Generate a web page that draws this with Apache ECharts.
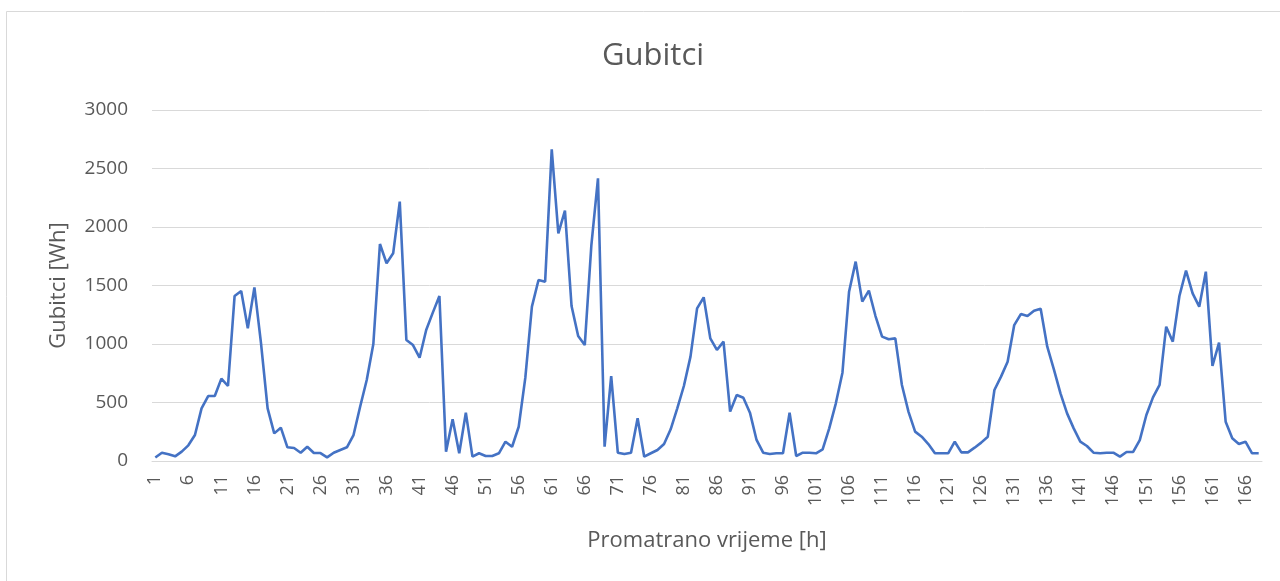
<!DOCTYPE html>
<html>
<head>
<meta charset="utf-8">
<script src="https://cdn.jsdelivr.net/npm/echarts@6/dist/echarts.min.js"></script>
<style>
  html, body { margin: 0; padding: 0; background: #ffffff; }
  #chart { width: 1280px; height: 581px; }
</style>
</head>
<body>
<div id="chart"></div>
<script>
// Hourly losses [Wh], one array per day of the observed week
const day1 = [30, 70, 57, 40, 80, 134, 222, 450, 555, 555, 704, 641, 1410, 1453, 1134, 1484, 1006, 450, 236, 285, 117, 111, 71, 122];
const day2 = [68, 68, 31, 71, 94, 117, 222, 464, 692, 1000, 1855, 1690, 1775, 2217, 1034, 991, 883, 1120, 1268, 1410, 80, 356, 66, 413];
const day3 = [37, 66, 43, 43, 66, 165, 122, 293, 710, 1319, 1547, 1533, 2664, 1946, 2140, 1325, 1068, 991, 1846, 2416, 122, 726, 71, 60];
const day4 = [71, 365, 37, 66, 94, 145, 271, 450, 641, 892, 1305, 1399, 1048, 949, 1020, 422, 564, 541, 413, 180, 71, 60, 66, 66];
const day5 = [413, 43, 71, 71, 66, 100, 279, 493, 755, 1447, 1704, 1362, 1456, 1239, 1063, 1040, 1048, 650, 420, 251, 208, 145, 66, 66];
const day6 = [66, 165, 74, 74, 114, 157, 208, 607, 721, 849, 1162, 1256, 1239, 1285, 1302, 977, 783, 578, 407, 279, 165, 128, 71, 66];
const day7 = [71, 71, 37, 77, 77, 179, 393, 544, 650, 1148, 1020, 1410, 1627, 1433, 1319, 1618, 812, 1011, 336, 194, 145, 165, 66, 66];

const losses = [].concat(day1, day2, day3, day4, day5, day6, day7);

// Hour labels 1..168
const hours = losses.map((_, i) => String(i + 1));

const titleText = 'Gubitci';
const xName = 'Promatrano vrijeme [h]';
const yName = 'Gubitci [Wh]';

const textColor = '#595959';
const gridColor = '#D9D9D9';
const fontFamily = '"Open Sans", "Noto Sans", sans-serif';

const chart = echarts.init(document.getElementById('chart'), null, { renderer: 'canvas' });

chart.setOption({
  backgroundColor: '#ffffff',
  animation: false,
  graphic: [{
    type: 'rect',
    shape: { x: 6.5, y: 11.5, width: 1300, height: 620 },
    style: { fill: 'none', stroke: gridColor, lineWidth: 1 },
    silent: true,
    z: -1
  }],
  title: {
    text: titleText,
    left: 597,
    top: 36,
    textStyle: { color: textColor, fontSize: 31, fontWeight: 'normal', fontFamily: fontFamily }
  },
  grid: { left: 152, right: 18, top: 110, bottom: 120, containLabel: false },
  xAxis: {
    type: 'category',
    data: hours,
    boundaryGap: true,
    name: xName,
    nameLocation: 'middle',
    nameGap: 69,
    nameTextStyle: { color: textColor, fontSize: 22, fontFamily: fontFamily },
    axisLine: { show: true, lineStyle: { color: gridColor, width: 1 } },
    axisTick: { show: false },
    axisLabel: {
      interval: 4,
      rotate: 90,
      margin: 14,
      color: textColor,
      fontSize: 18,
      fontFamily: fontFamily
    },
    splitLine: { show: false }
  },
  yAxis: {
    type: 'value',
    min: 0,
    max: 3000,
    interval: 500,
    name: yName,
    nameLocation: 'middle',
    nameGap: 82,
    nameTextStyle: { color: textColor, fontSize: 22, fontFamily: fontFamily },
    axisLine: { show: false },
    axisTick: { show: false },
    axisLabel: {
      color: textColor,
      fontSize: 19,
      margin: 24,
      fontFamily: fontFamily,
      formatter: (v) => String(v)
    },
    splitLine: { show: true, lineStyle: { color: gridColor, width: 1 } }
  },
  series: [{
    type: 'line',
    data: losses,
    showSymbol: false,
    symbol: 'none',
    smooth: false,
    lineStyle: { color: '#4472C4', width: 2.6 },
    itemStyle: { color: '#4472C4' }
  }]
});
</script>
</body>
</html>
